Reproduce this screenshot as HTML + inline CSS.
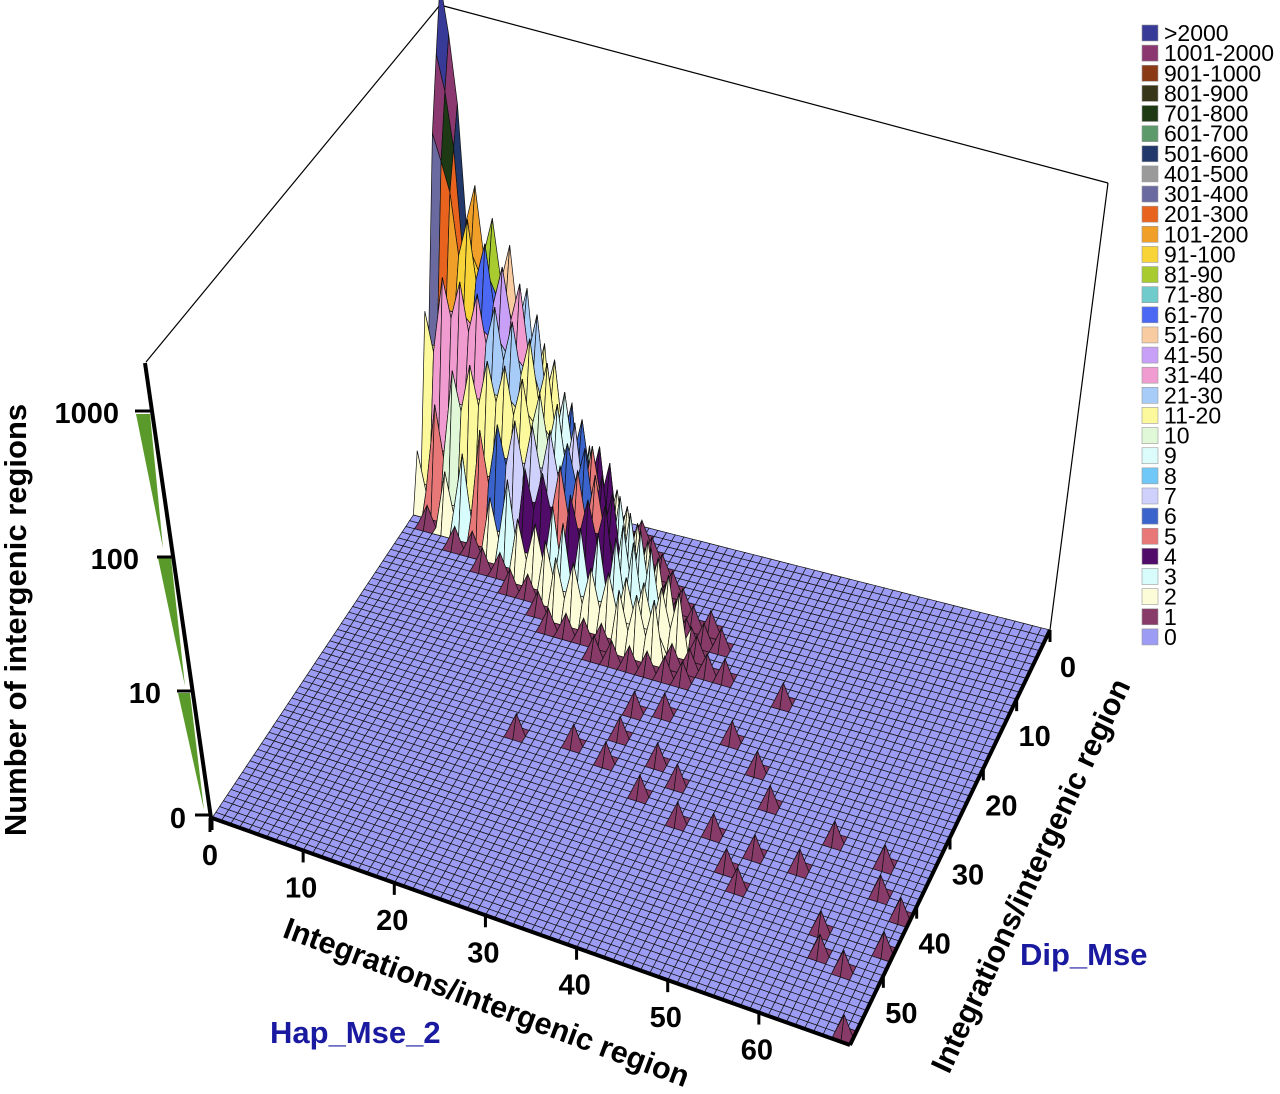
<!DOCTYPE html>
<html><head><meta charset="utf-8"><style>
html,body{margin:0;padding:0;background:#fff;}
svg{display:block;font-family:"Liberation Sans",Arial,sans-serif;}
</style></head><body>
<svg id="chart" width="1280" height="1094" viewBox="0 0 1280 1094" xmlns="http://www.w3.org/2000/svg">
<g id="box" stroke="#000" fill="none">
<line x1="146" y1="362" x2="440" y2="5" stroke-width="1.2"/>
<line x1="440" y1="5" x2="1108" y2="183" stroke-width="1.2"/>
<line x1="1108" y1="183" x2="1050" y2="630" stroke-width="1.2"/>
</g>
<g id="surface"></g>
<g stroke="#000" stroke-width="4" fill="none">
<line x1="212" y1="818" x2="850" y2="1045"/>
<line x1="1050" y1="630" x2="850" y2="1045"/>
</g>
<g>
<polygon points="136,414 150,414 163,548" fill="#5a9a2a"/>
<polygon points="158,558 171,558 185,686" fill="#5a9a2a"/>
<polygon points="178,693 190,693 204,810" fill="#5a9a2a"/>
<line x1="145" y1="363" x2="211" y2="818" stroke="#000" stroke-width="4"/>
<g stroke="#000" stroke-width="3">
<line x1="135" y1="411" x2="152" y2="411"/><line x1="157" y1="557" x2="173" y2="557"/>
<line x1="177" y1="691" x2="193" y2="691"/><line x1="195" y1="815" x2="212" y2="815"/>
<line x1="210" y1="818" x2="210" y2="832"/>
</g>
<g font-size="29" font-weight="bold" text-anchor="end">
<text x="119" y="423">1000</text>
<text x="139" y="569">100</text>
<text x="161" y="703">10</text>
<text x="186" y="828">0</text>
</g>
<text transform="translate(26,620) rotate(-90)" text-anchor="middle" font-size="31" font-weight="bold">Number of intergenic regions</text>
</g>
<g id="xticks" font-size="29" font-weight="bold" text-anchor="middle"></g>
<g id="yticks" font-size="29" font-weight="bold" text-anchor="middle"></g>
<text transform="translate(483,1012) rotate(20.5)" text-anchor="middle" font-size="30.5" font-weight="bold">Integrations/intergenic region</text>
<text transform="translate(1040,880) rotate(-65)" text-anchor="middle" font-size="30.5" font-weight="bold">Integrations/intergenic region</text>
<text x="270" y="1043" font-size="31" font-weight="bold" fill="#1a1aa0">Hap_Mse_2</text>
<text x="1020" y="965" font-size="31" font-weight="bold" fill="#1a1aa0">Dip_Mse</text>
<g id="legend" font-size="23"></g>
</svg>
<script>
const XMAX = 70, YMAX = 60;
const legendLabels = [">2000","1001-2000","901-1000","801-900","701-800","601-700","501-600","401-500","301-400","201-300","101-200","91-100","81-90","71-80","61-70","51-60","41-50","31-40","21-30","11-20","10","9","8","7","6","5","4","3","2","1","0"];
const legendMins = [2001,1001,901,801,701,601,501,401,301,201,101,91,81,71,61,51,41,31,21,11,10,9,8,7,6,5,4,3,2,1,0];
const legendColors = ["#383a98","#8b3870","#8a3a14","#38361a","#1e3a14","#5c9a6c","#22386a","#9a9a9a","#6a6aa0","#e8641e","#f0a028","#f8d438","#a8cc30","#70cccc","#4a68f4","#f8cca0","#c8a0f8","#f09cd0","#a8ccf8","#fcf89c","#e0f8d8","#dcfcfc","#70c8f8","#d0d0fc","#3a64cc","#e87878","#500c68","#d8fcfc","#fcfcd8","#883a68","#9c9cf4"];
const xTickValues = [0,10,20,30,40,50,60];
const yTickValues = [0,10,20,30,40,50];
// coarse ridge counts: row i -> x=2i, col j -> y=2j
const ridgeCounts = [
[800,150,20,2,0,0,0,0,0,0,0,0,0],
[300,150,40,5,1,0,0,0,0,0,0,0,0],
[150,100,40,10,2,0,0,0,0,0,0,0,0],
[90,70,35,12,3,1,0,0,0,0,0,0,0],
[60,50,30,14,5,1,0,0,0,0,0,0,0],
[30,40,25,14,6,2,1,0,0,0,0,0,0],
[12,25,20,12,7,3,1,0,0,0,0,0,0],
[4,12,14,10,7,4,2,1,0,0,0,0,0],
[1,6,9,9,7,4,2,1,0,0,0,0,0],
[0,3,6,7,6,5,3,2,1,0,0,0,0],
[0,1,4,5,6,5,4,3,2,1,0,0,0],
[0,1,2,4,4,5,4,3,2,1,0,0,0],
[0,0,1,2,3,4,4,3,2,1,0,0,0],
[0,0,1,1,2,3,3,3,2,1,1,0,0],
[0,0,0,1,1,2,3,3,2,2,1,0,0],
[0,0,0,0,1,1,2,3,2,2,1,0,0],
[0,0,0,0,0,1,1,2,2,2,1,0,0],
[0,0,0,0,0,0,1,1,2,1,1,0,0],
[0,0,0,0,0,0,1,1,1,1,1,0,0],
[0,0,0,0,0,0,0,1,0,1,0,0,0]];
const peakCounts = [[5000,1500,400],[2000,800,250],[600,300,150]];
const singleX = [23,29,33,24,35,40,47,44,48,51,38,43,47,52,50,52,57,59,65,66,62,63,66,69,69,69,30,33,36,33,38,41];
const singleY = [34,33,34,2,15,18,19,26,29,33,37,39,39,40,43,45,40,35,36,40,47,50,51,47,42,59,17,26,25,30,32,34];

const NS="http://www.w3.org/2000/svg";
const P00=[440,475],P10=[1050,630],P01=[212,818],P11=[850,1045];
function floorPt(x,y){const u=x/XMAX,v=y/YMAX;
 return [(1-u)*(1-v)*P00[0]+u*(1-v)*P10[0]+(1-u)*v*P01[0]+u*v*P11[0],
         (1-u)*(1-v)*P00[1]+u*(1-v)*P10[1]+(1-u)*v*P01[1]+u*v*P11[1]];}
function zPx(v){return v<=0?0:20+128*Math.log10(v);}
function colorOf(v){for(let i=0;i<legendMins.length;i++){if(v>=legendMins[i])return legendColors[i];}return legendColors[legendColors.length-1];}

const V=[];for(let x=0;x<=XMAX;x++){V.push(new Array(YMAX+1).fill(0));}
const ev=(x,y)=>{const i=x/2,j=y/2;return (i<ridgeCounts.length&&j<ridgeCounts[0].length)?ridgeCounts[i][j]:0;};
for(let x=0;x<=XMAX;x++)for(let y=0;y<=YMAX;y++){
 if(x%2===0&&y%2===0){V[x][y]=ev(x,y);}
 else{const xs=x%2?[x-1,x+1]:[x],ys=y%2?[y-1,y+1]:[y];let m=Infinity;
  xs.forEach(a=>ys.forEach(b=>{m=Math.min(m,ev(a,b));}));V[x][y]=Math.floor(m/2);}
}
for(let i=0;i<peakCounts.length;i++)for(let j=0;j<peakCounts[i].length;j++)V[i][j]=peakCounts[i][j];
for(let k=0;k<singleX.length;k++){const a=singleX[k],b=singleY[k];if(a<=XMAX&&b<=YMAX&&V[a][b]===0)V[a][b]=1;}

function proj(x,y){const p=floorPt(x,y);return [p[0],p[1]-zPx(V[x][y])];}
const surf=document.getElementById('surface');
const cells=[];
for(let x=0;x<XMAX;x++)for(let y=0;y<YMAX;y++)cells.push([x,y]);
cells.sort((a,b)=>(a[0]+a[1])-(b[0]+b[1]));
let frag=document.createDocumentFragment();
cells.forEach(([x,y])=>{
 const pts=[proj(x,y),proj(x+1,y),proj(x+1,y+1),proj(x,y+1)];
 const mx=Math.max(V[x][y],V[x+1][y],V[x+1][y+1],V[x][y+1]);
 const pg=document.createElementNS(NS,'polygon');
 pg.setAttribute('points',pts.map(p=>p[0].toFixed(1)+','+p[1].toFixed(1)).join(' '));
 pg.setAttribute('fill',colorOf(mx));
 pg.setAttribute('stroke','#111');
 pg.setAttribute('stroke-width','0.7');
 
 
 frag.appendChild(pg);
});
surf.appendChild(frag);

const xt=document.getElementById('xticks');
xTickValues.forEach(v=>{const p=floorPt(v,YMAX);
 const t=document.createElementNS(NS,'text');t.setAttribute('x',p[0]-2);t.setAttribute('y',p[1]+47);t.textContent=v;
 
 
 xt.appendChild(t);
 const l=document.createElementNS(NS,'line');l.setAttribute('x1',p[0]);l.setAttribute('y1',p[1]);l.setAttribute('x2',p[0]);l.setAttribute('y2',p[1]+12);l.setAttribute('stroke','#000');l.setAttribute('stroke-width','3');
 
 
 xt.appendChild(l);});
const yt=document.getElementById('yticks');
yTickValues.forEach(v=>{const p=floorPt(XMAX,v);
 const t=document.createElementNS(NS,'text');t.setAttribute('x',p[0]+18);t.setAttribute('y',p[1]+47);t.textContent=v;
 
 
 yt.appendChild(t);
 const l=document.createElementNS(NS,'line');l.setAttribute('x1',p[0]);l.setAttribute('y1',p[1]);l.setAttribute('x2',p[0]);l.setAttribute('y2',p[1]+12);l.setAttribute('stroke','#000');l.setAttribute('stroke-width','3');
 
 
 yt.appendChild(l);});

const lg=document.getElementById('legend');
legendLabels.forEach((lab,i)=>{const y=25+i*20.13;
 const r=document.createElementNS(NS,'rect');r.setAttribute('x',1142);r.setAttribute('y',y);r.setAttribute('width',16);r.setAttribute('height',16);r.setAttribute('fill',legendColors[i]);r.setAttribute('stroke','#999');r.setAttribute('stroke-width','0.6');
 
 
 lg.appendChild(r);
 const t=document.createElementNS(NS,'text');t.setAttribute('x',1164);t.setAttribute('y',y+16);t.textContent=lab;
 
 
 lg.appendChild(t);});
</script>
</body></html>
